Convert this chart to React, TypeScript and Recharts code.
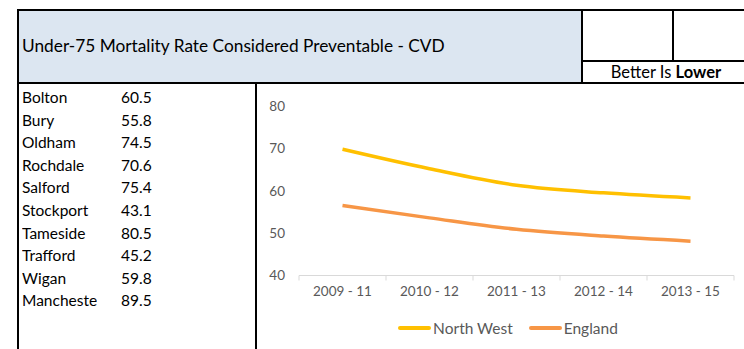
import { Legend, Line, LineChart, XAxis, YAxis } from "recharts";

const FONT = "Lato, 'Open Sans', sans-serif";
const GREY = "#595959";
const AXIS = "#d9d9d9";
const NW = "#ffc000";
const ENG = "#f79646";
const HEAD_BG = "#dce6f1";

const TITLE = "Under-75 Mortality Rate Considered Preventable - CVD";
const areas = ["Bolton", "Bury", "Oldham", "Rochdale", "Salford", "Stockport", "Tameside", "Trafford", "Wigan", "Manchester"];
const areaValues = ["60.5", "55.8", "74.5", "70.6", "75.4", "43.1", "80.5", "45.2", "59.8", "89.5"];

const periods = ["2009 - 11", "2010 - 12", "2011 - 13", "2012 - 14", "2013 - 15"];
const northWest = [69.8, 65.2, 61.3, 59.5, 58.3];
const england = [56.5, 53.6, 50.9, 49.3, 48.1];
const yTicks = [40, 50, 60, 70, 80];
const seriesOrder = ["North West", "England"];

const data = periods.map((p, i) => ({ period: p, nw: northWest[i], eng: england[i] }));

const HALF = 43.5;

function PeriodTick(props: any) {
  const { x, y, payload, index, visibleTicksCount } = props;
  const top = y - 8;
  return (
    <g>
      <line x1={x - HALF} x2={x - HALF} y1={top} y2={top + 5} stroke={AXIS} />
      {index === visibleTicksCount - 1 && (
        <line x1={x + HALF} x2={x + HALF} y1={top} y2={top + 5} stroke={AXIS} />
      )}
      <text x={x} y={y + 12} textAnchor="middle" fill={GREY} fontSize={13.5} fontFamily={FONT}>
        {payload.value}
      </text>
    </g>
  );
}

function LegendRow(props: any) {
  const items = [...(props.payload || [])].sort(
    (a: any, b: any) => seriesOrder.indexOf(a.value) - seriesOrder.indexOf(b.value)
  );
  return (
    <div style={{ display: "flex", justifyContent: "center", alignItems: "center", height: 24, paddingLeft: 24, fontFamily: FONT, fontSize: 15.5, color: GREY }}>
      {items.map((it: any, i: number) => (
        <div key={i} style={{ display: "flex", alignItems: "center", marginLeft: i ? 16 : 0 }}>
          <div style={{ width: 33, height: 4, borderRadius: 2, background: it.color, marginRight: 2 }} />
          <span>{it.value}</span>
        </div>
      ))}
    </div>
  );
}

export default function App() {
  return (
    <div style={{ position: "absolute", left: 0, top: 0, width: 744, height: 349, background: "#fff", fontFamily: FONT, color: "#000", overflow: "hidden" }}>
      {/* header */}
      <div style={{ position: "absolute", left: 17, top: 9, width: 566, height: 73, background: HEAD_BG, borderLeft: "2px solid #000", borderTop: "2px solid #000", borderRight: "2px solid #000", boxSizing: "border-box" }} />
      <div style={{ position: "absolute", left: 22, top: 35, fontSize: 17.3, whiteSpace: "nowrap" }}>{TITLE}</div>
      <div style={{ position: "absolute", left: 583, top: 9, width: 170, height: 2, background: "#000" }} />
      <div style={{ position: "absolute", left: 672, top: 9, width: 2, height: 52, background: "#000" }} />
      <div style={{ position: "absolute", left: 583, top: 60, width: 170, height: 2, background: "#000" }} />
      <div style={{ position: "absolute", left: 583, top: 62, width: 170, height: 20, display: "flex", alignItems: "center", justifyContent: "center", fontSize: 16.5, paddingRight: 4, boxSizing: "border-box" }}>
        <span>Better Is&nbsp;<b>Lower</b></span>
      </div>
      <div style={{ position: "absolute", left: 17, top: 82, width: 744, height: 2, background: "#000" }} />

      {/* table */}
      <div style={{ position: "absolute", left: 17, top: 84, width: 2, height: 265, background: "#000" }} />
      <div style={{ position: "absolute", left: 255, top: 84, width: 2, height: 265, background: "#000" }} />
      {areas.map((a, i) => (
        <div key={a} style={{ position: "absolute", left: 22, top: 86 + i * 22.6, height: 22, lineHeight: "22px", fontSize: 15.5 }}>
          <div style={{ position: "absolute", left: 0, width: 75, overflow: "hidden", whiteSpace: "nowrap" }}>{a}</div>
          <div style={{ position: "absolute", left: 99 }}>{areaValues[i]}</div>
        </div>
      ))}

      {/* chart */}
      <div style={{ position: "absolute", left: 258, top: 90 }}>
        <LineChart width={486} height={259} data={data} margin={{ top: 16, right: 10, left: 0, bottom: 9 }}>
          <XAxis
            dataKey="period"
            padding={{ left: HALF, right: HALF }}
            height={40.5}
            tickLine={false}
            axisLine={{ stroke: AXIS }}
            tick={<PeriodTick />}
            interval={0}
          />
          <YAxis
            domain={[40, 80]}
            ticks={yTicks}
            width={41}
            axisLine={false}
            tickLine={false}
            tickMargin={8}
            tick={{ fill: GREY, fontSize: 13.5, fontFamily: FONT }}
          />
          <Legend verticalAlign="bottom" content={<LegendRow />} />
          <Line dataKey="nw" name="North West" type="monotone" stroke={NW} strokeWidth={3.5} dot={false} isAnimationActive={false} />
          <Line dataKey="eng" name="England" type="monotone" stroke={ENG} strokeWidth={3.5} dot={false} isAnimationActive={false} />
        </LineChart>
      </div>
    </div>
  );
}
